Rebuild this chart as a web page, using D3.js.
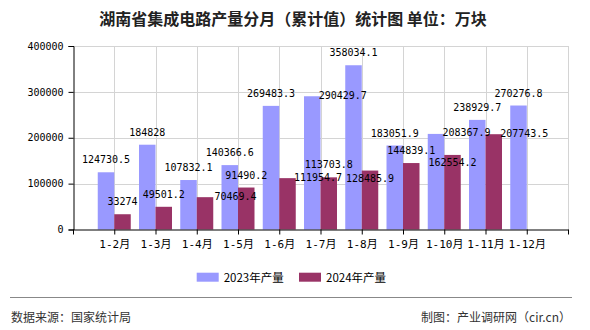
<!DOCTYPE html>
<html>
<head>
<meta charset="utf-8">
<script src="https://cdn.jsdelivr.net/npm/d3@7/dist/d3.min.js"></script>
<style>
  html, body { margin: 0; padding: 0; background: #fff; }
  svg { display: block; }
</style>
</head>
<body>
<script>
// ---------- data ----------
const categories = ["1-2月","1-3月","1-4月","1-5月","1-6月","1-7月","1-8月","1-9月","1-10月","1-11月","1-12月"];
const seriesNames = ["2023年产量","2024年产量"];
const values2023 = [124730.5,184828,107832.1,140366.6,269483.3,290429.7,358034.1,183051.9,208367.9,238929.7,270276.8];
const values2024 = [33274,49501.2,70469.4,91490.2,111954.7,113703.8,128485.9,144839.1,162554.2,207743.5,null];
const yTicks = [0,100000,200000,300000,400000];
const titleText = "湖南省集成电路产量分月（累计值）统计图 单位：万块";
const sourceText = "数据来源：国家统计局";
const creditText = "制图：产业调研网（cir.cn）";

// ---------- layout ----------
const W = 590, H = 330;
const plot = { left: 73, right: 568, top: 46, bottom: 229.5 };
const colors = ["#9999ff", "#993366"];
// label placement tweaks mirroring the reference's overlap handling (key: series-index)
const shiftRight = new Set(["1-2","1-4","0-5","0-8","1-9"]);
const shiftDown = new Set(["1-6","1-8"]);

const svg = d3.select("body").append("svg").attr("width", W).attr("height", H);

const x = d3.scaleLinear().domain([0, categories.length + 1]).range([plot.left, plot.right]);
const y = d3.scaleLinear().domain([0, 400000]).range([plot.bottom, plot.top]);
const step = x(1) - x(0);
const bw = step * 0.4;

const monoFont = "'DejaVu Sans Mono', 'Noto Sans CJK SC', monospace";
const cjkFont = "'Noto Sans CJK SC', sans-serif";

// title
svg.append("text").attr("x", 293).attr("y", 18).attr("text-anchor", "middle")
  .attr("dominant-baseline", "central")
  .style("font-family", cjkFont).style("font-size", "16px").style("font-weight", "bold")
  .attr("fill", "#222").text(titleText);

// grid
const grid = svg.append("g").attr("stroke", "#d4d4d4").attr("stroke-width", 1);
yTicks.filter(d => d > 0).forEach(t => {
  grid.append("line").attr("x1", plot.left).attr("x2", plot.right)
    .attr("y1", Math.round(y(t)) + 0.5).attr("y2", Math.round(y(t)) + 0.5);
});
d3.range(1, categories.length + 2).forEach(i => {
  grid.append("line").attr("x1", Math.round(x(i)) + 0.5).attr("x2", Math.round(x(i)) + 0.5)
    .attr("y1", plot.top).attr("y2", plot.bottom);
});

// bars
const barsG = svg.append("g");
[values2023, values2024].forEach((vals, s) => {
  barsG.selectAll(null).data(vals.map((v, i) => ({ v, i })).filter(d => d.v != null))
    .enter().append("rect")
    .attr("x", d => x(d.i + 1) - (s === 0 ? bw : 0))
    .attr("width", bw)
    .attr("y", d => y(d.v))
    .attr("height", d => y(0) - y(d.v))
    .attr("fill", colors[s]);
});

// axes
const yAxis = d3.axisLeft(y).tickValues(yTicks).tickSize(5).tickPadding(5).tickFormat(d3.format("d"));
const yg = svg.append("g").attr("transform", `translate(${plot.left + 0.5},0)`).call(yAxis);
yg.select(".domain").attr("stroke", "#000");
yg.selectAll(".tick line").attr("stroke", "#000");
yg.selectAll("text").style("font-family", monoFont).style("font-size", "10px").attr("fill", "#000");

const xAxis = d3.axisBottom(x).tickValues(d3.range(0, categories.length + 2)).tickSize(5).tickSizeOuter(0)
  .tickFormat(d => (d >= 1 && d <= categories.length) ? categories[d - 1] : "");
const xg = svg.append("g").attr("transform", `translate(0,${plot.bottom})`).call(xAxis);
xg.select(".domain").attr("stroke", "#000");
xg.selectAll(".tick line").attr("stroke", "#000");
xg.selectAll("text").style("font-family", monoFont).style("font-size", "11px").attr("fill", "#000").attr("dy", "0.95em");

// value labels
const labelsG = svg.append("g").style("font-family", monoFont).style("font-size", "10px").attr("fill", "#000");
[values2023, values2024].forEach((vals, s) => {
  vals.forEach((v, i) => {
    if (v == null) return;
    const key = s + "-" + i;
    let cx = x(i + 1) + (s === 0 ? -bw / 2 : bw / 2);
    let cy = y(v) - 12.5;
    if (shiftRight.has(key)) { cx += 30.5; cy += 11.5; }
    if (shiftDown.has(key)) { cy += 20.5; }
    labelsG.append("text").attr("x", cx).attr("y", cy).attr("text-anchor", "middle")
      .attr("dominant-baseline", "central").text(String(v));
  });
});

// legend
const legend = svg.append("g");
const legendPos = [196.7, 299];
seriesNames.forEach((n, s) => {
  legend.append("rect").attr("x", legendPos[s]).attr("y", 272.7).attr("width", 22).attr("height", 9).attr("fill", colors[s]);
  legend.append("text").attr("x", legendPos[s] + 27).attr("y", 277).attr("dominant-baseline", "central")
    .style("font-family", cjkFont).style("font-size", "11.5px").attr("fill", "#000").text(n);
});

// separator & footer
svg.append("line").attr("x1", 10).attr("x2", 572).attr("y1", 297.5).attr("y2", 297.5).attr("stroke", "#888").attr("stroke-width", 1);
svg.append("text").attr("x", 11).attr("y", 316).attr("dominant-baseline", "central")
  .style("font-family", cjkFont).style("font-size", "12px").attr("fill", "#333").text(sourceText);
svg.append("text").attr("x", 571).attr("y", 316).attr("dominant-baseline", "central").attr("text-anchor", "end")
  .style("font-family", cjkFont).style("font-size", "12px").attr("fill", "#333").text(creditText);
</script>
</body>
</html>
